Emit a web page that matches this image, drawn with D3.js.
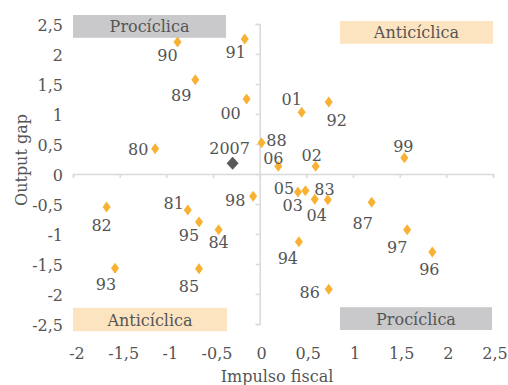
<!DOCTYPE html>
<html><head><meta charset="utf-8">
<script src="https://cdn.jsdelivr.net/npm/d3@7"></script>
<style>
html,body{margin:0;padding:0;background:#fff;}
svg{display:block;}
text{font-family:"DejaVu Serif",serif;fill:#555555;}
</style></head>
<body>
<svg id="c" width="508" height="385"></svg>
<script>
const labels = ["90","91","89","00","80","88","06","02","01","92","99","98","05","83","03","04","87","97","96","94","86","82","81","95","84","93","85"];
const impulso = [-0.88,-0.16,-0.69,-0.14,-1.12,0.02,0.20,0.60,0.45,0.74,1.55,-0.07,0.41,0.49,0.59,0.73,1.20,1.58,1.85,0.42,0.74,-1.64,-0.77,-0.65,-0.44,-1.55,-0.65];
const outputGap = [2.20,2.25,1.57,1.25,0.42,0.52,0.13,0.13,1.03,1.20,0.27,-0.37,-0.30,-0.28,-0.42,-0.43,-0.47,-0.93,-1.30,-1.13,-1.92,-0.55,-0.60,-0.80,-0.93,-1.57,-1.58];
const highlightLabel = ["2007"];
const highlightX = [-0.29];
const highlightY = [0.18];
const xTicks = [-2,-1.5,-1,-0.5,0,0.5,1,1.5,2,2.5];
const yTicks = [-2.5,-2,-1.5,-1,-0.5,0,0.5,1,1.5,2,2.5];
const quadrantNames = ["Procíclica","Anticíclica","Anticíclica","Procíclica"];
// label offsets (px) relative to marker
const labelDx = [-10,-9,-14,-16,-17,15,-5,-4,-10,8,-1,-18,-14,19,-22,-11,-9,-10,-3,-11,-19,-5,-14,-10,0,-9,-10];
const labelDy = [13,13,15,14,0,-3,-8,-11,-13,18,-12,4,-4,-2,6,15,21,17,17,16,3,18,-7,13,12,16,17];

const svg = d3.select("#c");
const x = d3.scaleLinear().domain([-2,2.5]).range([73,493]);
const y = d3.scaleLinear().domain([-2.5,2.5]).range([324,24]);
const fmt = d => String(d).replace(".",",");
const axisCol = "#d9d9d9";

// x axis at y=0
const xa = svg.append("g").attr("transform",`translate(0,${y(0)})`)
  .call(d3.axisBottom(x).tickValues(xTicks).tickSize(4).tickFormat(""));
xa.select(".domain").attr("stroke",axisCol).attr("stroke-width",1.5);
xa.selectAll(".tick line").attr("stroke",axisCol).attr("stroke-width",1.5);
// y axis at x=0
const ya = svg.append("g").attr("transform",`translate(${x(0)},0)`)
  .call(d3.axisLeft(y).tickValues(yTicks).tickSize(4).tickFormat(""));
ya.select(".domain").attr("stroke",axisCol).attr("stroke-width",1.5);
ya.selectAll(".tick line").attr("stroke",axisCol).attr("stroke-width",1.5);

// tick labels at plot edges
svg.append("g").selectAll("text").data(xTicks).join("text")
  .attr("x",d=>x(d)+ (d<0?4:2)).attr("y",359).attr("text-anchor","middle")
  .attr("font-size",16).text(fmt);
svg.append("g").selectAll("text").data(yTicks).join("text")
  .attr("x",63).attr("y",d=>y(d)+7).attr("text-anchor","end")
  .attr("font-size",16).text(fmt);

// axis titles
svg.append("text").attr("x",277).attr("y",382).attr("text-anchor","middle").attr("font-size",16).text("Impulso fiscal");
svg.append("text").attr("transform","translate(27,160) rotate(-90)").attr("text-anchor","middle").attr("font-size",16).text("Output gap");

// quadrant boxes
const boxes = [
  {x0:-2,x1:-0.36,y0:2.65,y1:2.27,fill:"#c9c9cb"},
  {x0:0.86,x1:2.5,y0:2.55,y1:2.17,fill:"#fde4c0"},
  {x0:-2,x1:-0.35,y0:-2.23,y1:-2.62,fill:"#fde4c0"},
  {x0:0.86,x1:2.49,y0:-2.22,y1:-2.6,fill:"#c9c9cb"}
];
boxes.forEach((b,i)=>{
  svg.append("rect").attr("x",x(b.x0)).attr("y",y(b.y0)).attr("width",x(b.x1)-x(b.x0)).attr("height",y(b.y1)-y(b.y0)).attr("fill",b.fill);
  svg.append("text").attr("x",(x(b.x0)+x(b.x1))/2).attr("y",(y(b.y0)+y(b.y1))/2+6).attr("text-anchor","middle").attr("font-size",16).text(quadrantNames[i]);
});

// points
const diamond = (cx,cy,w,h)=>`M${cx},${cy-h/2}L${cx+w/2},${cy}L${cx},${cy+h/2}L${cx-w/2},${cy}Z`;
const pts = labels.map((l,i)=>({l,x:impulso[i],y:outputGap[i],dx:labelDx[i],dy:labelDy[i]}));
svg.append("g").selectAll("path").data(pts).join("path")
  .attr("d",d=>diamond(x(d.x),y(d.y),8,11)).attr("fill","#f8b133");
svg.append("g").selectAll("text").data(pts).join("text")
  .attr("x",d=>x(d.x)+d.dx).attr("y",d=>y(d.y)+d.dy+6).attr("text-anchor","middle")
  .attr("font-size",16).text(d=>d.l);

// highlight 2007
highlightLabel.forEach((l,i)=>{
  svg.append("path").attr("d",diamond(x(highlightX[i]),y(highlightY[i]),12,13)).attr("fill","#595959");
  svg.append("text").attr("x",x(highlightX[i])-3).attr("y",y(highlightY[i])-15+6).attr("text-anchor","middle").attr("font-size",16).text(l);
});
</script>
</body></html>
